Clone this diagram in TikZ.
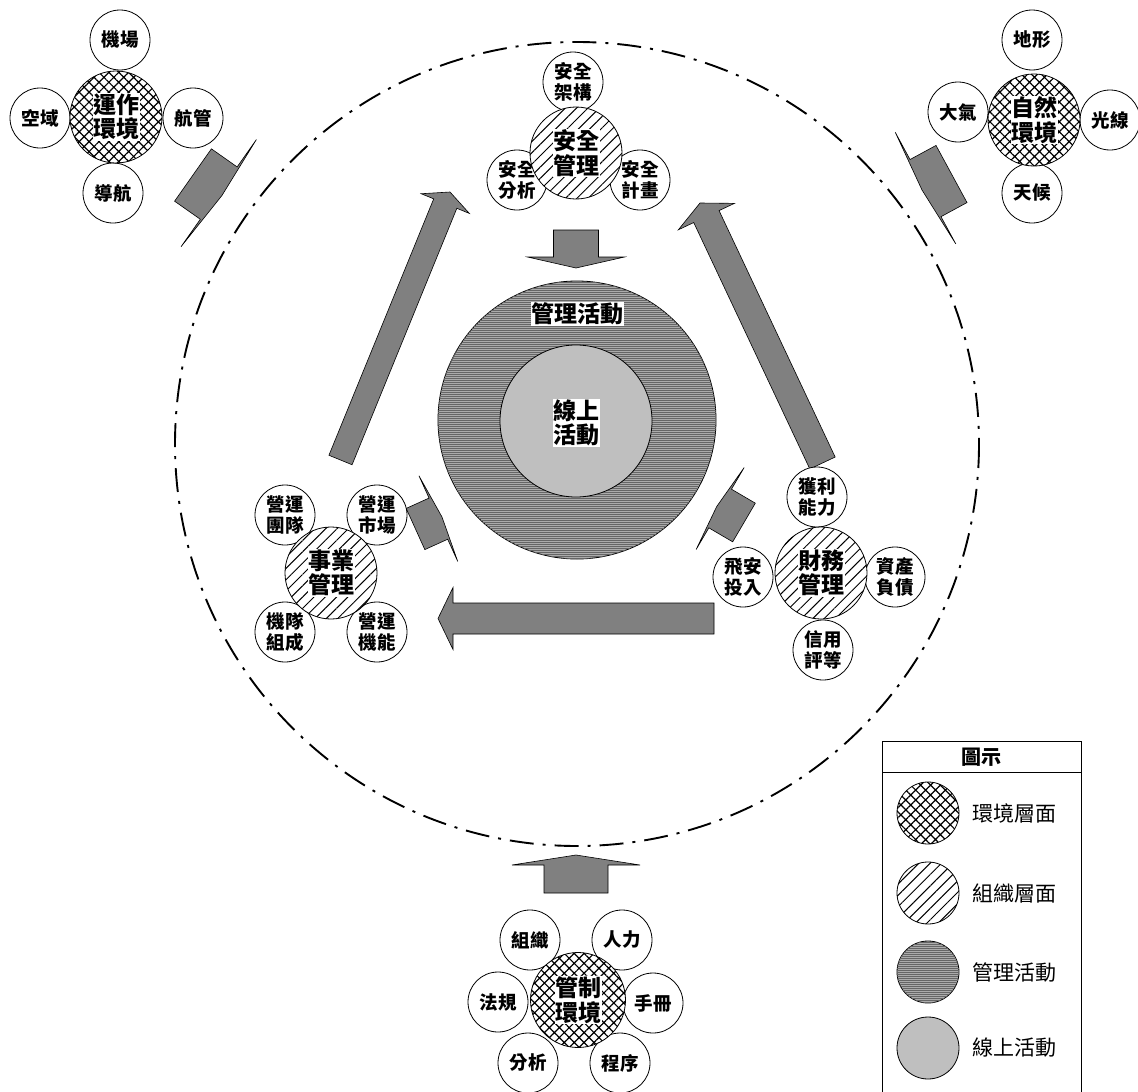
\documentclass[tikz,border=0pt]{standalone}
\usepackage{fontspec}
\newfontfamily\cjk{Noto Sans CJK TC}
\usetikzlibrary{calc,patterns.meta}
\newcommand\mainfnt{\cjk\bfseries\fontsize{23}{24.5}\selectfont}
\newcommand\satfnt{\cjk\bfseries\fontsize{18.5}{21.5}\selectfont}
\newcommand\legfnt{\cjk\fontsize{21}{24}\selectfont}
\newcommand{\blockarrow}[5]{%
  \path ($(#2)!#5!(#1)$) coordinate (ba);
  \draw[garrow] ($(#1)!#3!90:(#2)$) -- ($(ba)!#3!90:(#2)$) -- ($(ba)!#4!90:(#2)$) -- (#2)
    -- ($(ba)!#4!-90:(#2)$) -- ($(ba)!#3!-90:(#2)$) -- ($(#1)!#3!-90:(#2)$) -- cycle;}
\begin{document}
\begin{tikzpicture}[x=1pt,y=-1pt,
  sat/.style={circle, draw, line width=0.8pt, fill=white, minimum size=60pt, inner sep=0pt, align=center, font=\satfnt},
  envc/.style={circle, draw, line width=0.8pt, fill=white, minimum size=#1, inner sep=0pt,
     postaction={pattern={Hatch[angle=45,distance=7pt,line width=1.2pt]}}},
  envc/.default=92pt,
  orgc/.style={circle, draw, line width=0.8pt, fill=white, minimum size=#1, inner sep=0pt,
     postaction={pattern={Lines[angle=45,distance=8pt,line width=1pt]}}},
  orgc/.default=92pt,
  mgc/.style={circle, draw, line width=0.8pt, minimum size=#1, fill=black!33,
     postaction={pattern={Lines[angle=0,distance=2pt,line width=0.7pt]}, pattern color=black!60}},
  mtxt/.style={fill=white, inner sep=0.5pt, align=center, font=\mainfnt},
  garrow/.style={fill=black!50, draw=black, line width=0.6pt, line join=miter},
  dashdot/.style={line width=1.9pt, dash pattern=on 24pt off 9pt on 3pt off 9pt}
]
\useasboundingbox (0,0) rectangle (1138,1092);
\clip (0,0) rectangle (1138,1092);

% big dash-dot circle
\draw[dashdot] (577,444) circle (402);

% central circles
\node[mgc=278pt] (mgmt) at (577,420) {};
\node[circle, draw, line width=0.8pt, minimum size=152pt, fill=black!25] (online) at (576,421) {};
\node[mtxt] (mgmtlbl) at (577,314) {管理活動};
\node[mtxt] (onlinelbl) at (576,423) {線上\\活動};

% arrows
\coordinate (a1t) at (340.5,460); \coordinate (a1p) at (450,192);
\blockarrow{a1t}{a1p}{12.5pt}{26pt}{12.5pt}
\coordinate (a2t) at (822.5,463); \coordinate (a2p) at (700,203);
\blockarrow{a2t}{a2p}{14pt}{31pt}{15pt}
\coordinate (a3t) at (714,618.5); \coordinate (a3p) at (438,618.5);
\blockarrow{a3t}{a3p}{15.5pt}{31pt}{15pt}
\coordinate (a4t) at (576,230); \coordinate (a4p) at (576,268);
\blockarrow{a4t}{a4p}{22.5pt}{48.5pt}{11pt}
\coordinate (a5t) at (576,893); \coordinate (a5p) at (576,855);
\blockarrow{a5t}{a5p}{32pt}{64pt}{10pt}
\coordinate (a6t) at (193,175); \coordinate (a6p) at (222,195.4);
\blockarrow{a6t}{a6p}{32pt}{65.5pt}{4pt}
\coordinate (a7t) at (951.5,174); \coordinate (a7p) at (922,190);
\blockarrow{a7t}{a7p}{32.5pt}{63.5pt}{4pt}
\coordinate (a8t) at (415.5,529); \coordinate (a8p) at (442,517);
\blockarrow{a8t}{a8p}{22.6pt}{47pt}{4pt}
\coordinate (a9t) at (744,522.5); \coordinate (a9p) at (716.7,506.5);
\blockarrow{a9t}{a9p}{22.4pt}{47.5pt}{4pt}

% operating environment (top-left)
\node[sat] (jichang) at (120,40) {機場};
\node[sat] (kongyu) at (40,118) {空域};
\node[sat] (hangguan) at (193,118) {航管};
\node[sat] (daohang) at (113,193) {導航};
\node[envc] (openv) at (116,117) {};
\node[mtxt] at (openv.center) {運作\\環境};

% natural environment (top-right)
\node[sat] (dixing) at (1032,40) {地形};
\node[sat] (daqi) at (958,112) {大氣};
\node[sat] (guangxian) at (1110,120) {光線};
\node[sat] (tianhou) at (1032,193) {天候};
\node[envc] (natenv) at (1034,120) {};
\node[mtxt] at (natenv.center) {自然\\環境};

% safety management (top)
\node[sat] (aqjg) at (573,82) {安全\\架構};
\node[sat] (aqfx) at (517,180) {安全\\分析};
\node[sat] (aqjh) at (640,180) {安全\\計畫};
\node[orgc] (safety) at (576,153) {};
\node[mtxt] at (safety.center) {安全\\管理};

% business management (left)
\node[sat] (yytd) at (285,515) {營運\\團隊};
\node[sat] (yysc) at (377,515) {營運\\市場};
\node[sat] (jdzc) at (285,632) {機隊\\組成};
\node[sat] (yyjn) at (377,632) {營運\\機能};
\node[orgc] (business) at (331,573) {};
\node[mtxt] at (business.center) {事業\\管理};

% financial management (right)
\node[sat] (hlnl) at (817,497) {獲利\\能力};
\node[sat] (fatr) at (743,577) {飛安\\投入};
\node[sat] (zcfz) at (895,577) {資產\\負債};
\node[sat] (xypd) at (823,650) {信用\\評等};
\node[orgc] (finance) at (821,573) {};
\node[mtxt] at (finance.center) {財務\\管理};

% regulatory environment (bottom)
\node[sat] (zuzhi) at (530,940) {組織};
\node[sat] (renli) at (622,940) {人力};
\node[sat] (fagui) at (498,1002) {法規};
\node[sat] (shouce) at (653,1003) {手冊};
\node[sat] (fenxi) at (528,1063) {分析};
\node[sat] (chengxu) at (620,1063) {程序};
\node[envc=95pt] (regenv) at (578,1000) {};
\node[mtxt] at (regenv.center) {管制\\環境};

% legend
\draw[line width=0.8pt] (882,1100) -- (882,741) -- (1081,741) -- (1081,1100);
\draw[line width=0.8pt] (882,772) -- (1081,772);
\node[font=\cjk\bfseries\fontsize{20}{22}\selectfont] (legtitle) at (981,757) {圖示};
\node[envc=62pt] (leg1) at (928,813) {};
\node[orgc=62pt] (leg2) at (928,893) {};
\node[mgc=62pt] (leg3) at (928,972) {};
\node[circle, draw, line width=0.8pt, minimum size=62pt, fill=black!25] (leg4) at (928,1048) {};
\node[anchor=west, font=\legfnt] (leg1t) at (969,813) {環境層面};
\node[anchor=west, font=\legfnt] (leg2t) at (969,893) {組織層面};
\node[anchor=west, font=\legfnt] (leg3t) at (969,972) {管理活動};
\node[anchor=west, font=\legfnt] (leg4t) at (969,1048) {線上活動};
\end{tikzpicture}
\end{document}
